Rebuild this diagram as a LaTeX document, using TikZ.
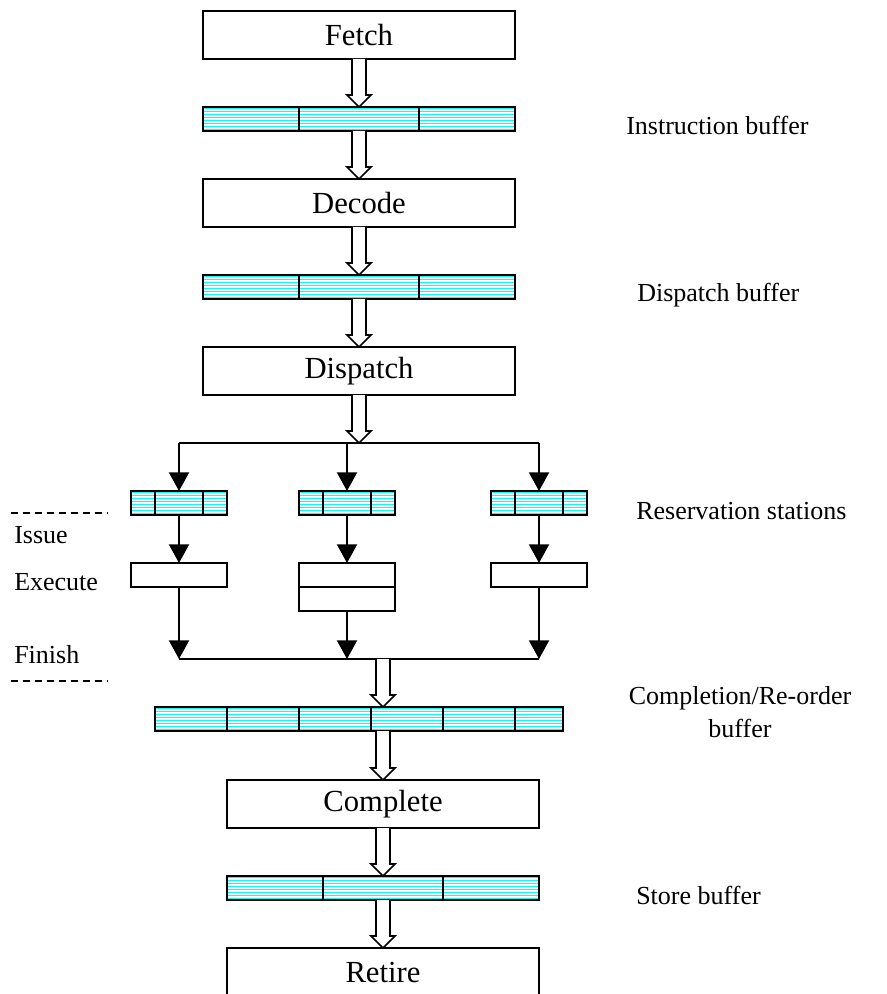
\documentclass[tikz,border=0pt]{standalone}
\usepackage{fontspec}
\setmainfont{Liberation Serif}
\usetikzlibrary{arrows.meta,calc}
\definecolor{bufcyan}{RGB}{0,255,255}

% hollow block arrow from the point #1 straight down to the level of #2
\newcommand\hollowarrow[2]{%
  \path[hollowtip] let \p1=#1, \p2=#2 in
    (\x1-5.25pt,\y1) -- (\x1-5.25pt,\y2+9pt) -- (\x1-9pt,\y2+9pt) --
    (\x1,\y2) -- (\x1+9pt,\y2+9pt) -- (\x1+5.25pt,\y2+9pt) -- (\x1+5.25pt,\y1);}

% vertical separators inside a buffer, offsets measured from its west side
\newcommand\cells[2]{%
  \foreach \d in {#2}{\draw[wire] ($(#1.north west)+(\d,0)$) -- ($(#1.south west)+(\d,0)$);}}

\begin{document}
\begin{tikzpicture}[x=0.75pt,y=-0.75pt,
  stagebox/.style={draw, line width=1.5pt, fill=white, minimum width=234pt,
    minimum height=36pt, inner sep=0pt, outer sep=0pt,
    font=\fontsize{23}{27}\selectfont},
  fubox/.style={draw, line width=1.5pt, fill=white, minimum width=72pt,
    minimum height=18pt, inner sep=0pt, outer sep=0pt},
  bufbox/.style={draw, line width=1.5pt, fill=bufcyan, minimum height=18pt,
    inner sep=0pt, outer sep=0pt,
    path picture={\foreach \k in {1,...,7}{\draw[white, line width=0.8pt]
      ($(path picture bounding box.north west)+(0,\k*3)$) -- ++(700,0);}}},
  note/.style={font=\fontsize{19.5}{23}\selectfont, inner sep=0pt, anchor=base west},
  wire/.style={line width=1.5pt},
  arrowline/.style={wire, -{Triangle[length=14pt,width=15pt]}},
  hollowtip/.style={draw, fill=white, line width=1.2pt, line join=miter},
  stagemark/.style={line width=1pt, dash pattern=on 5pt off 4pt},
]
\useasboundingbox (0,0) rectangle (887,994);
\clip (0,0) rectangle (887,994);

% in-order front end
\node[stagebox] (fetch)    at (359,35)  {Fetch};
\node[bufbox, minimum width=234pt] (ibuf) at (359,119) {};
\node[stagebox] (decode)   at (359,203) {Decode};
\node[bufbox, minimum width=234pt] (dbuf) at (359,287) {};
\node[stagebox] (dispatch) at (359,371) {Dispatch};
\cells{ibuf}{96,216}
\cells{dbuf}{96,216}

\hollowarrow{(fetch.south)}{(ibuf.north)}
\hollowarrow{(ibuf.south)}{(decode.north)}
\hollowarrow{(decode.south)}{(dbuf.north)}
\hollowarrow{(dbuf.south)}{(dispatch.north)}

% reservation stations and execution units
\coordinate (fork) at (359,443);
\node[bufbox, minimum width=72pt] (rs1) at (179,503) {};
\node[bufbox, minimum width=72pt] (rs2) at (347,503) {};
\node[bufbox, minimum width=72pt] (rs3) at (539,503) {};
\cells{rs1}{24,72}
\cells{rs2}{24,72}
\cells{rs3}{24,72}

\node[fubox] (ex1) at (179,575) {};
\node[fubox, minimum height=36pt] (ex2) at (347,587) {};
\node[fubox] (ex3) at (539,575) {};
\draw[wire] (ex2.west) -- (ex2.east);

\draw[wire] (rs1.north |- fork) -- (rs3.north |- fork);
\hollowarrow{(dispatch.south)}{(fork)}
\draw[arrowline] (rs1.north |- fork) -- (rs1.north);
\draw[arrowline] (rs2.north |- fork) -- (rs2.north);
\draw[arrowline] (rs3.north |- fork) -- (rs3.north);
\draw[arrowline] (rs1.south) -- (ex1.north);
\draw[arrowline] (rs2.south) -- (ex2.north);
\draw[arrowline] (rs3.south) -- (ex3.north);

% finish and in-order back end
\coordinate (join) at (383,659);
\draw[wire] (ex1.south |- join) -- (ex3.south |- join);
\draw[arrowline] (ex1.south) -- (ex1.south |- join);
\draw[arrowline] (ex2.south) -- (ex2.south |- join);
\draw[arrowline] (ex3.south) -- (ex3.south |- join);

\node[bufbox, minimum width=306pt] (cbuf) at (359,719) {};
\cells{cbuf}{72,144,216,288,360}
\node[stagebox] (complete) at (383,804) {Complete};
\node[bufbox, minimum width=234pt] (sbuf) at (383,888) {};
\cells{sbuf}{96,216}
\node[stagebox] (retire) at (383,972) {Retire};

\hollowarrow{(join)}{(cbuf.north)}
\hollowarrow{(complete.north |- cbuf.south)}{(complete.north)}
\hollowarrow{(complete.south)}{(sbuf.north)}
\hollowarrow{(sbuf.south)}{(retire.north)}

% stage boundaries and phase names
\draw[stagemark] (11,513) -- (108,513);
\draw[stagemark] (11,681) -- (108,681);
\node[note] (issue)   at (14,543) {Issue};
\node[note] (execute) at (14,590) {Execute};
\node[note] (finish)  at (14,663) {Finish};

% buffer names
\node[note] (ibufname) at (626,135) {Instruction buffer};
\node[note] (dbufname) at (637,302) {Dispatch buffer};
\node[note] (rsname)   at (636,519) {Reservation stations};
\node[font=\fontsize{19.5}{25}\selectfont, align=center, inner sep=0pt]
  (cbufname) at (740,712) {Completion/Re-order\\buffer};
\node[note] (sbufname) at (636,904) {Store buffer};
\end{tikzpicture}
\end{document}
